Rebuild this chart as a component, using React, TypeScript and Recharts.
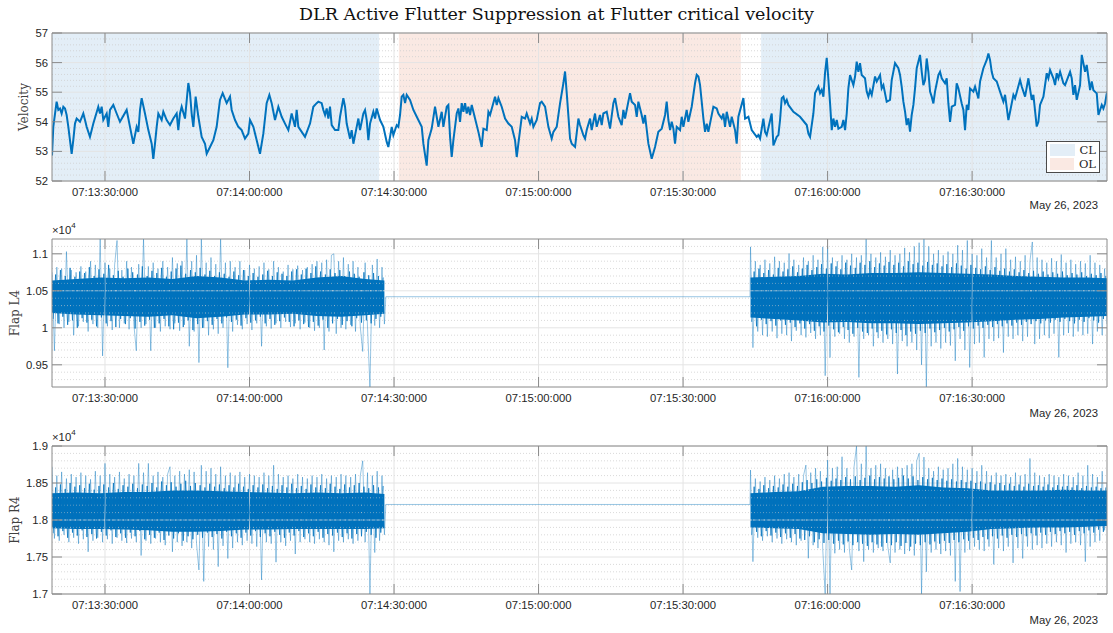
import { ComposedChart, Line, Area, XAxis, YAxis, ReferenceArea, ReferenceLine } from 'recharts'

const W = 1113
const BLUE = '#0072BD'
const AXIS = '#8a8a8a'
const INK = '#262626'
const SANS = '"Liberation Sans", Arial, Helvetica, sans-serif'
const SERIF = '"DejaVu Serif", "Liberation Serif", serif'

// time in seconds after 07:13:00
const X_MIN = 19
const X_MAX = 238
const timeTicks = [30, 60, 90, 120, 150, 180, 210]
const timeLabels = ['07:13:30:000', '07:14:00:000', '07:14:30:000', '07:15:00:000', '07:15:30:000', '07:16:00:000', '07:16:30:000']

// closed loop / open loop phases
const clSpans = [[19, 86.9], [166.2, 238]]
const olSpans = [[91.0, 162.0]]

// velocity trace (turning points)
const velT = [19.0, 19.27, 19.96, 20.31, 20.66, 21.0, 21.35, 21.7, 22.04, 22.39, 22.73, 23.08, 23.42, 23.77, 24.12, 24.81, 25.5, 25.85, 26.19, 26.88, 27.58, 28.61, 28.96, 29.31, 29.65, 30.35, 30.69, 31.04, 31.73, 32.42, 33.11, 34.5, 35.19, 35.88, 36.57, 36.92, 37.27, 37.61, 38.3, 39.0, 39.69, 40.03, 40.38, 40.73, 41.07, 41.76, 42.11, 42.8, 43.49, 44.19, 44.88, 45.22, 45.57, 45.92, 46.61, 47.3, 47.65, 47.99, 48.34, 48.82, 49.38, 50.07, 50.76, 51.11, 51.8, 52.49, 53.18, 53.87, 54.43, 55.26, 55.95, 56.3, 56.99, 57.68, 58.37, 59.06, 59.76, 60.1, 60.8, 61.49, 62.18, 62.87, 63.56, 64.12, 64.6, 65.29, 65.99, 66.68, 67.37, 68.06, 68.75, 69.44, 69.79, 70.14, 71.52, 72.56, 73.25, 73.94, 74.29, 74.98, 75.33, 75.68, 76.02, 76.37, 76.71, 77.06, 77.75, 78.44, 78.79, 79.48, 79.83, 80.17, 80.87, 81.21, 81.56, 82.25, 82.6, 82.94, 83.63, 83.98, 84.33, 84.67, 85.02, 85.71, 86.06, 86.4, 87.1, 87.79, 88.48, 88.82, 89.52, 89.86, 90.56, 90.9, 91.25, 91.59, 91.94, 92.29, 92.63, 93.32, 94.02, 95.05, 95.75, 96.09, 96.78, 97.13, 97.82, 98.51, 98.86, 99.21, 99.9, 100.24, 100.94, 101.28, 101.63, 101.97, 102.32, 103.01, 103.36, 103.7, 104.05, 104.4, 104.74, 105.09, 105.43, 105.78, 106.13, 106.82, 107.51, 108.2, 108.55, 109.24, 109.59, 109.93, 110.97, 111.32, 111.66, 112.35, 113.05, 113.74, 114.43, 115.12, 115.47, 115.81, 116.51, 117.2, 117.54, 118.24, 118.58, 118.93, 119.62, 120.31, 120.66, 121.35, 122.04, 122.73, 123.08, 123.77, 124.47, 125.16, 125.5, 125.85, 126.54, 126.89, 127.58, 128.27, 128.61, 129.3, 129.65, 130.0, 130.69, 131.03, 131.72, 132.07, 132.76, 133.11, 133.45, 134.15, 134.84, 135.53, 135.88, 136.57, 137.26, 137.61, 137.95, 138.99, 139.34, 140.03, 140.38, 140.72, 141.41, 141.76, 142.1, 142.8, 143.49, 144.18, 144.87, 145.57, 146.26, 146.6, 146.95, 147.3, 147.64, 147.99, 148.33, 148.68, 149.37, 149.72, 150.06, 150.75, 151.1, 151.79, 152.49, 152.83, 153.18, 153.52, 154.22, 154.56, 154.91, 155.25, 156.29, 156.98, 157.33, 158.02, 158.37, 158.71, 159.06, 159.75, 160.1, 160.79, 161.13, 161.48, 162.52, 162.87, 163.56, 164.25, 165.29, 165.63, 165.98, 166.67, 167.02, 167.36, 168.4, 168.75, 169.44, 169.79, 170.13, 170.48, 170.83, 171.17, 171.52, 171.86, 172.9, 174.28, 175.67, 176.02, 176.36, 177.05, 177.4, 178.09, 178.44, 178.78, 179.13, 179.47, 179.82, 180.17, 180.51, 180.86, 181.2, 181.55, 181.9, 182.24, 182.93, 183.28, 183.63, 183.97, 184.31, 184.66, 185.0, 185.35, 185.7, 186.04, 186.39, 186.73, 187.08, 187.77, 188.12, 188.46, 188.81, 189.16, 189.85, 190.2, 190.89, 191.23, 191.58, 192.27, 192.96, 193.31, 194.0, 194.69, 195.04, 195.38, 195.73, 196.08, 196.42, 196.77, 197.11, 197.46, 197.81, 198.15, 198.5, 199.19, 199.54, 199.88, 200.23, 200.57, 200.92, 201.27, 201.61, 201.96, 202.3, 203.0, 203.34, 203.69, 204.38, 204.73, 205.07, 205.42, 205.77, 206.46, 206.8, 207.15, 207.84, 208.19, 208.53, 208.88, 209.23, 209.57, 210.26, 210.61, 211.3, 211.65, 212.34, 213.03, 213.38, 213.72, 214.07, 214.42, 215.11, 215.8, 216.49, 216.84, 217.53, 217.88, 218.57, 218.91, 219.95, 220.3, 220.99, 221.68, 222.38, 222.72, 223.41, 223.76, 224.1, 224.8, 225.49, 225.83, 226.18, 226.87, 227.22, 227.57, 227.91, 228.26, 228.95, 229.29, 230.33, 230.68, 231.02, 231.37, 231.72, 232.41, 232.76, 233.45, 233.79, 234.49, 234.83, 235.18, 235.87, 236.22, 236.91, 237.25, 237.6, 237.95, 238.0]
const velV = [52.86, 53.83, 54.68, 54.4, 54.45, 54.28, 54.51, 54.45, 54.23, 53.83, 53.38, 52.92, 53.38, 53.94, 54.11, 54.0, 54.28, 54.06, 53.83, 53.49, 53.94, 54.51, 54.28, 54.51, 54.06, 54.28, 53.83, 54.4, 54.57, 54.28, 54.0, 54.4, 53.83, 53.26, 53.83, 53.66, 54.4, 54.8, 54.28, 53.72, 53.26, 52.75, 53.26, 53.83, 54.28, 54.06, 54.34, 54.06, 53.89, 54.11, 54.28, 53.72, 54.28, 54.51, 54.11, 55.31, 54.97, 54.28, 53.83, 54.85, 54.17, 53.49, 53.26, 52.92, 53.15, 53.38, 53.83, 54.74, 54.97, 54.63, 54.85, 54.4, 54.06, 53.83, 53.72, 53.43, 53.6, 54.06, 53.83, 53.38, 52.92, 53.6, 54.63, 54.91, 54.63, 54.06, 54.51, 54.17, 53.94, 53.72, 54.28, 53.83, 54.4, 53.83, 53.49, 53.94, 54.51, 54.63, 54.68, 54.63, 54.4, 54.23, 54.45, 54.11, 54.51, 53.89, 53.72, 53.72, 54.17, 54.8, 54.51, 53.94, 53.43, 53.72, 53.26, 53.83, 54.11, 53.72, 54.28, 54.4, 54.06, 53.38, 53.94, 54.34, 54.11, 54.45, 54.06, 53.83, 53.32, 53.15, 53.83, 53.55, 53.89, 53.83, 54.23, 54.85, 54.91, 54.63, 54.91, 54.74, 54.4, 54.06, 53.83, 53.26, 52.52, 53.38, 53.77, 54.51, 54.17, 53.83, 54.34, 53.83, 54.51, 54.57, 53.49, 52.81, 53.38, 54.28, 54.45, 54.0, 54.63, 54.34, 54.63, 54.28, 54.51, 54.23, 54.57, 54.11, 53.66, 53.15, 53.77, 53.72, 54.34, 54.23, 54.85, 54.57, 54.8, 54.51, 54.11, 53.94, 53.83, 53.38, 52.81, 53.26, 54.17, 54.11, 54.28, 53.94, 54.11, 53.83, 54.06, 54.63, 54.68, 54.51, 53.83, 53.43, 53.66, 53.83, 54.63, 55.31, 55.7, 54.97, 53.43, 53.26, 53.15, 54.11, 53.89, 53.55, 53.43, 53.72, 54.11, 53.72, 54.28, 53.83, 54.23, 53.89, 54.28, 54.34, 53.77, 54.63, 54.8, 54.17, 53.89, 54.4, 54.11, 54.97, 54.68, 54.57, 54.17, 54.68, 54.23, 53.94, 54.23, 53.26, 52.75, 53.15, 53.66, 53.77, 54.23, 54.68, 54.06, 53.72, 54.0, 53.77, 53.26, 53.83, 53.72, 54.17, 53.83, 54.4, 54.0, 54.51, 55.31, 55.59, 55.53, 55.25, 54.11, 53.66, 53.94, 53.66, 54.51, 54.45, 54.28, 54.11, 54.28, 53.83, 54.34, 53.83, 54.17, 53.72, 53.26, 54.17, 54.8, 54.11, 54.17, 53.72, 53.49, 53.55, 53.43, 54.11, 53.66, 53.55, 54.28, 53.2, 53.49, 53.55, 54.06, 54.8, 54.85, 54.63, 54.74, 54.57, 54.34, 54.17, 53.89, 53.6, 53.49, 54.28, 54.97, 55.19, 54.97, 55.08, 54.85, 55.65, 56.16, 55.42, 54.63, 53.72, 54.11, 53.83, 54.06, 53.77, 53.83, 54.06, 53.72, 54.28, 55.13, 55.58, 55.41, 55.24, 55.53, 56.03, 55.69, 55.98, 55.58, 55.47, 55.02, 54.85, 55.07, 54.91, 55.53, 55.36, 55.58, 55.13, 55.24, 54.68, 54.74, 55.41, 55.98, 55.81, 55.58, 55.19, 54.68, 54.34, 53.89, 54.12, 53.67, 54.23, 54.57, 55.13, 55.81, 56.26, 55.69, 55.24, 55.41, 56.14, 55.69, 55.02, 54.85, 54.62, 55.02, 55.58, 55.69, 55.47, 55.3, 55.47, 54.62, 54.0, 54.51, 54.57, 55.3, 55.13, 54.62, 54.4, 53.72, 54.57, 54.4, 55.13, 55.02, 55.19, 54.79, 55.36, 55.81, 56.09, 56.31, 56.09, 55.69, 55.47, 55.36, 55.02, 54.68, 54.91, 54.06, 54.34, 54.91, 54.79, 55.41, 55.19, 54.85, 55.47, 54.74, 54.91, 53.84, 54.0, 54.57, 54.85, 55.64, 55.47, 55.75, 55.47, 55.24, 55.64, 55.47, 55.69, 55.3, 55.24, 55.69, 55.47, 54.91, 55.24, 54.74, 55.24, 56.26, 55.69, 55.92, 55.07, 55.36, 55.07, 54.96, 54.23, 54.57, 54.45, 54.62, 54.96, 55.02]

// flap signals: extreme excursions every 0.5 s in the active (CL) phases
const SPIKE_STEP = 0.5
const leftStart = 19
const rightStart = 164
const l4LeftSpikes = [10750, 9690, 10820, 10050, 10800, 10000, 11030, 10080, 10780, 9900, 10750, 10020, 10830, 10080, 10760, 9950, 10900, 10050, 10850, 10000, 11200, 9620, 10880, 10020, 10800, 9970, 10850, 11180, 10000, 10780, 10060, 10900, 9980, 10820, 10040, 9690, 10860, 10000, 11200, 10050, 10830, 9690, 10880, 10000, 10800, 9950, 10900, 10020, 10820, 9980, 10950, 10060, 10870, 9960, 10900, 10040, 11200, 9750, 10900, 9950, 10980, 9530, 11200, 10000, 10880, 9900, 10950, 9980, 10860, 9920, 11200, 10000, 10880, 9460, 10900, 9950, 10820, 10040, 10900, 9980, 10780, 10050, 10850, 9970, 10800, 10060, 10830, 9750, 10880, 10020, 10790, 9990, 10900, 10060, 10820, 10000, 10760, 10080, 10850, 10010, 10790, 10060, 10840, 9980, 10780, 10070, 10820, 10000, 10860, 9960, 10900, 10000, 10880, 9700, 10920, 9950, 10980, 11000, 9920, 10900, 10000, 10950, 9980, 10860, 10040, 10900, 9950, 10820, 10010, 9680, 10880, 10000, 9200, 10850, 10030, 10930, 10000, 10820, 10050]
const l4RightSpikes = [11094, 9732, 10900, 9950, 10850, 9900, 10920, 9880, 10870, 9950, 10960, 9860, 10900, 9920, 10880, 9900, 11004, 9820, 10920, 9960, 10850, 9900, 10950, 9870, 10900, 9930, 10980, 9850, 10920, 9900, 11094, 9353, 11100, 9598, 10950, 9880, 10900, 9920, 10980, 9850, 10920, 9800, 11000, 9880, 10950, 9330, 10980, 9850, 11200, 9900, 11000, 9750, 10950, 9860, 11020, 9800, 10960, 9850, 11050, 9780, 10980, 9375, 11000, 9820, 11080, 9750, 11020, 9800, 11100, 9700, 11150, 9500, 11200, 9200, 11100, 9750, 11000, 9800, 11050, 9720, 10980, 9800, 11030, 9760, 11000, 9554, 11116, 9850, 11050, 9700, 11180, 9464, 11000, 9780, 10980, 9800, 11070, 9600, 10950, 9850, 11180, 9820, 10950, 9860, 11000, 9665, 11070, 9880, 10920, 9850, 10960, 9900, 10900, 9820, 10980, 9880, 10900, 11160, 9780, 10950, 9850, 10920, 9900, 10880, 9860, 10940, 9920, 10900, 9600, 10990, 9900, 10880, 9930, 10920, 9880, 10860, 9950, 10900, 9900, 10870, 9920, 10980, 9780, 10880, 9950, 10850, 9900, 10800, 10050]
const r4LeftSpikes = [18720, 17750, 18600, 17720, 18650, 17800, 18560, 17700, 18620, 17760, 18580, 17680, 18640, 17740, 18600, 17570, 18550, 17720, 18660, 17760, 18600, 17700, 18765, 17740, 18620, 17680, 18580, 17760, 18650, 17720, 18560, 17690, 18620, 17750, 18600, 17700, 18765, 17520, 18640, 17720, 18765, 17680, 18600, 17750, 18650, 17700, 18580, 17660, 18620, 18720, 17570, 18600, 17700, 18660, 17650, 18620, 17700, 18680, 17620, 18650, 17680, 17325, 18740, 17170, 18660, 17640, 18700, 17600, 18620, 17370, 18720, 17650, 18600, 17480, 18640, 17620, 18600, 17700, 18650, 17660, 18580, 17720, 18620, 17680, 18600, 17640, 18580, 17190, 18640, 17700, 18600, 17680, 18740, 17430, 18620, 17700, 18580, 17650, 18600, 17720, 18560, 17540, 18620, 17700, 18580, 17740, 18560, 17700, 18600, 17680, 18580, 17740, 18620, 17700, 18560, 17660, 18600, 17570, 18580, 17720, 18620, 17700, 18600, 17740, 18580, 17680, 18620, 17720, 18600, 18800, 17700, 18640, 17000, 18600, 17560, 18660, 17720, 18600, 17800]
const r4RightSpikes = [18675, 17437, 18560, 17760, 18520, 17720, 18580, 17780, 18540, 17700, 18600, 17750, 18560, 17680, 18620, 17740, 18640, 17700, 18580, 17660, 18620, 17720, 18600, 18742, 17483, 18640, 17660, 18700, 17620, 18660, 17600, 17000, 18810, 17000, 18700, 17550, 18720, 17600, 18855, 17560, 18700, 17620, 17325, 18720, 19000, 17580, 18760, 17437, 19000, 17600, 18700, 17560, 18740, 17620, 18760, 17580, 18700, 17640, 17420, 18680, 17560, 18720, 17600, 18700, 17540, 18740, 17580, 18760, 17520, 18800, 18900, 17000, 18850, 17300, 18700, 17560, 18660, 17600, 18720, 17540, 18680, 17580, 18700, 17520, 18760, 17170, 18832, 17033, 18720, 17560, 18680, 17600, 18700, 17640, 18660, 17600, 18740, 17580, 18660, 17640, 18600, 17400, 18640, 17620, 18600, 17580, 18620, 17640, 18580, 17420, 18640, 17620, 18600, 17480, 18620, 17640, 18832, 17600, 18640, 17660, 18600, 17620, 18580, 17680, 18620, 17640, 18600, 17700, 18580, 17660, 18620, 17560, 18600, 17680, 18580, 17700, 18640, 17660, 18600, 17437, 18740, 17640, 18620, 17700, 18580, 17720, 18660, 17860, 18500]

// edge of the dense (dark) part of the trace, every 0.5 s, offset by a quarter second
const INNER_OFFSET = 0.25
const l4LeftInner = [10120, 10720, 10060, 10780, 10150, 10700, 10040, 10810, 10100, 10690, 10000, 10760, 10130, 10740, 10070, 10820, 10110, 10700, 10020, 10790, 10140, 10730, 10060, 10850, 10090, 10710, 10010, 10770, 10120, 10690, 10050, 10800, 10130, 10750, 9990, 10720, 10080, 10830, 10030, 10700, 10110, 10770, 10000, 10740, 10060, 10810, 10120, 10690, 10020, 10760, 9980, 10800, 10070, 10840, 10010, 10730, 10100, 10780, 9970, 10750, 10050, 10810, 10000, 10720, 10090, 10770, 10040, 10700, 10120, 10750, 10060, 10730, 10140, 10690, 10080, 10760, 10110, 10710, 10030, 10780, 10130, 10700, 10070, 10740, 10100, 10690, 10150, 10720, 10060, 10770, 10120, 10700, 10040, 10750, 10090, 10730, 10140, 10700, 10080, 10760, 10020, 10790, 10100, 10720, 10050, 10800, 10010, 10740, 10080, 10830, 10030, 10760, 10110, 10720, 10000, 10790, 10060, 10740, 10120, 10780, 10040, 10700, 10090, 10760, 10020, 10730, 10130, 10690, 10070, 10750, 10100, 10710, 10060, 10740, 10120, 10700, 10150, 10680]
const l4RightInner = [10080, 10760, 10020, 10800, 10110, 10740, 10050, 10780, 10090, 10720, 10030, 10810, 10100, 10760, 10040, 10790, 10070, 10830, 10010, 10750, 10060, 10800, 9990, 10850, 10050, 10780, 9960, 10820, 10020, 10860, 9950, 10800, 10030, 10870, 9980, 10830, 9940, 10790, 10010, 10880, 9970, 10840, 9920, 10810, 10000, 10880, 9950, 10850, 9930, 10900, 9990, 10820, 9940, 10870, 9960, 10840, 9910, 10890, 9980, 10850, 9930, 10880, 9970, 10830, 9900, 10900, 9950, 10860, 9920, 10880, 9960, 10840, 9930, 10890, 9990, 10850, 9940, 10870, 9970, 10830, 10000, 10860, 9950, 10820, 9980, 10870, 10010, 10840, 9960, 10800, 10020, 10850, 9990, 10810, 10030, 10790, 10000, 10830, 10040, 10780, 10010, 10820, 10050, 10770, 10020, 10800, 10060, 10760, 10030, 10790, 10070, 10750, 10040, 10780, 10080, 10740, 10050, 10770, 10090, 10730, 10060, 10760, 10100, 10720, 10070, 10750, 10110, 10730, 10080, 10760, 10120, 10710, 10090, 10740, 10060, 10720, 10110, 10750, 10080, 10700, 10130, 10730, 10100, 10710, 10070, 10740, 10120, 10700]
const r4LeftInner = [17820, 18440, 17780, 18480, 17850, 18420, 17760, 18500, 17830, 18450, 17790, 18470, 17860, 18430, 17770, 18490, 17810, 18410, 17750, 18460, 17840, 18480, 17790, 18440, 17860, 18500, 17770, 18420, 17820, 18470, 17760, 18450, 17830, 18490, 17780, 18430, 17850, 18480, 17740, 18460, 17800, 18500, 17760, 18440, 17830, 18520, 17730, 18470, 17790, 18510, 17750, 18450, 17820, 18490, 17720, 18530, 17780, 18460, 17740, 18500, 17800, 18470, 17760, 18440, 17830, 18490, 17770, 18450, 17810, 18480, 17750, 18430, 17840, 18470, 17780, 18440, 17820, 18490, 17760, 18450, 17830, 18420, 17790, 18470, 17850, 18440, 17770, 18480, 17820, 18430, 17780, 18460, 17840, 18420, 17800, 18470, 17760, 18440, 17830, 18490, 17790, 18430, 17850, 18460, 17770, 18420, 17820, 18480, 17780, 18440, 17840, 18470, 17760, 18430, 17810, 18490, 17790, 18450, 17830, 18420, 17770, 18480, 17820, 18440, 17750, 18470, 17810, 18500, 17780, 18450, 17840, 18430, 17800, 18470, 17760, 18440, 17830, 18460]
const r4RightInner = [17800, 18450, 17840, 18420, 17780, 18470, 17850, 18430, 17790, 18460, 17830, 18440, 17770, 18480, 17820, 18450, 17760, 18490, 17810, 18460, 17750, 18510, 17730, 18540, 17780, 18500, 17700, 18550, 17740, 18520, 17690, 18570, 17730, 18530, 17680, 18560, 17720, 18540, 17670, 18580, 17710, 18550, 17660, 18590, 17700, 18540, 17680, 18570, 17650, 18600, 17700, 18550, 17670, 18580, 17640, 18560, 17690, 18590, 17660, 18550, 17700, 18570, 17650, 18600, 17690, 18560, 17640, 18590, 17680, 18540, 17660, 18580, 17700, 18550, 17670, 18570, 17710, 18540, 17680, 18560, 17720, 18530, 17690, 18550, 17730, 18520, 17700, 18540, 17740, 18510, 17720, 18530, 17760, 18500, 17730, 18520, 17770, 18490, 17740, 18510, 17780, 18480, 17750, 18500, 17790, 18470, 17760, 18490, 17800, 18460, 17770, 18480, 17810, 18450, 17780, 18490, 17820, 18460, 17790, 18470, 17830, 18450, 17800, 18480, 17840, 18440, 17810, 18470, 17850, 18450, 17820, 18460, 17840, 18440, 17800, 18470, 17850, 18430, 17820, 18460, 17860, 18440, 17830, 18450, 17870, 18430, 17840, 18440]

// held value while the controller is off (OL)
const holdT = [88.3, 163.9]
const l4Hold = [10420, 10420]
const r4Hold = [18210, 18210]

// solid band in the middle of the trace
const coreLeftT = [19, 24, 29, 34, 39, 44, 49, 54, 59, 64, 69, 74, 79, 84, 88]
const coreRightT = [164, 169, 174, 179, 184, 189, 194, 199, 204, 209, 214, 219, 224, 229, 234, 238]
const l4CoreLeftLo = [10200, 10180, 10170, 10160, 10150, 10170, 10130, 10150, 10180, 10180, 10190, 10160, 10150, 10170, 10190]
const l4CoreLeftHi = [10640, 10660, 10680, 10670, 10680, 10660, 10700, 10680, 10640, 10650, 10640, 10680, 10700, 10660, 10640]
const l4CoreRightLo = [10140, 10120, 10100, 10070, 10080, 10060, 10060, 10050, 10060, 10070, 10090, 10110, 10120, 10140, 10150, 10160]
const l4CoreRightHi = [10680, 10690, 10700, 10730, 10720, 10740, 10740, 10750, 10740, 10730, 10720, 10700, 10690, 10680, 10680, 10670]
const r4CoreLeftLo = [17890, 17880, 17880, 17870, 17860, 17840, 17840, 17850, 17870, 17870, 17880, 17880, 17880, 17880, 17890]
const r4CoreLeftHi = [18360, 18370, 18360, 18380, 18380, 18400, 18400, 18390, 18380, 18370, 18360, 18370, 18360, 18370, 18350]
const r4CoreRightLo = [17900, 17890, 17880, 17820, 17810, 17800, 17810, 17800, 17820, 17840, 17880, 17890, 17900, 17900, 17910, 17920]
const r4CoreRightHi = [18360, 18380, 18390, 18450, 18460, 18460, 18450, 18470, 18440, 18430, 18400, 18400, 18400, 18410, 18400, 18400]

// axes
const velTicks = [52, 53, 54, 55, 56, 57]
const velTickLabels = ['52', '53', '54', '55', '56', '57']
const velMinor = [52.2, 52.4, 52.6, 52.8, 53.2, 53.4, 53.6, 53.8, 54.2, 54.4, 54.6, 54.8, 55.2, 55.4, 55.6, 55.8, 56.2, 56.4, 56.6, 56.8]
const l4Ticks = [9500, 10000, 10500, 11000]
const l4TickLabels = ['0.95', '1', '1.05', '1.1']
const l4Minor = [9300, 9400, 9600, 9700, 9800, 9900, 10100, 10200, 10300, 10400, 10600, 10700, 10800, 10900, 11100]
const r4Ticks = [17000, 17500, 18000, 18500, 19000]
const r4TickLabels = ['1.7', '1.75', '1.8', '1.85', '1.9']
const r4Minor = [17100, 17200, 17300, 17400, 17600, 17700, 17800, 17900, 18100, 18200, 18300, 18400, 18600, 18700, 18800, 18900]

const velRows = velT.map((t, i) => ({ t, v: velV[i] }))
const stepRows = (start: number, vals: number[]) => vals.map((v, i) => ({ t: start + i * SPIKE_STEP, v }))
const flapRows = (left: number[], hold: number[], right: number[]) => [
  ...stepRows(leftStart, left),
  ...holdT.map((t, i) => ({ t, v: hold[i] })),
  ...stepRows(rightStart, right),
]
const coreRows = (ts: number[], lo: number[], hi: number[]) => ts.map((t, i) => ({ t, r: [lo[i], hi[i]] }))

const timeLabel = (v: number) => timeLabels[timeTicks.indexOf(v)] ?? ''

function BottomTick(props: any) {
  const { x, y, payload } = props
  return (
    <g>
      <line x1={x} x2={x} y1={y - 7} y2={y - 17} stroke={AXIS} />
      <text x={x} y={y} dy="0.71em" textAnchor="middle" fill={INK} fontSize={11.3} fontFamily={SANS}>{timeLabel(payload.value)}</text>
    </g>
  )
}

function TopTick(props: any) {
  const { x, y } = props
  return <line x1={x} x2={x} y1={y} y2={y + 10} stroke={AXIS} />
}

function makeLeftTick(ticks: number[], labels: string[]) {
  return function LeftTick(props: any) {
    const { x, y, payload } = props
    return (
      <g>
        <line x1={x + 4} x2={x + 14} y1={y} y2={y} stroke={AXIS} />
        <text x={x} y={y} dy="0.355em" textAnchor="end" fill={INK} fontSize={11.3} fontFamily={SANS}>{labels[ticks.indexOf(payload.value)]}</text>
      </g>
    )
  }
}

function RightTick(props: any) {
  const { x, y } = props
  return <line x1={x} x2={x - 10} y1={y} y2={y} stroke={AXIS} />
}

function gridLines(majorY: number[], minorY: number[]) {
  return [
    ...minorY.map((v) => <ReferenceLine key={'my' + v} y={v} stroke="#cfcfcf" strokeDasharray="1 2" strokeWidth={0.8} />),
    ...majorY.map((v) => <ReferenceLine key={'gy' + v} y={v} stroke="#e4e4e4" />),
    ...timeTicks.map((v) => <ReferenceLine key={'gx' + v} x={v} stroke="#e4e4e4" />),
  ]
}

function axes(domain: number[], ticks: number[], labels: string[]) {
  const LeftTick = makeLeftTick(ticks, labels)
  return [
    <XAxis key="xb" xAxisId={0} dataKey="t" type="number" domain={[X_MIN, X_MAX]} ticks={timeTicks} interval={0} allowDataOverflow
      height={1} tickSize={0} tickMargin={7} tickLine={false} axisLine={{ stroke: AXIS }} tick={(p: any) => <BottomTick {...p} />} />,
    <XAxis key="xt" xAxisId="top" orientation="top" dataKey="t" type="number" domain={[X_MIN, X_MAX]} ticks={timeTicks} interval={0} allowDataOverflow
      height={1} tickSize={0} tickMargin={0} tickLine={false} axisLine={{ stroke: AXIS }} tick={(p: any) => <TopTick {...p} />} />,
    <YAxis key="yl" yAxisId={0} type="number" domain={domain} ticks={ticks} interval={0} allowDataOverflow
      width={1} tickSize={0} tickMargin={4} tickLine={false} axisLine={{ stroke: AXIS }} tick={(p: any) => <LeftTick {...p} />} />,
    <YAxis key="yr" yAxisId="r" orientation="right" type="number" domain={domain} ticks={ticks} interval={0} allowDataOverflow
      width={1} tickSize={0} tickMargin={0} tickLine={false} axisLine={{ stroke: AXIS }} tick={(p: any) => <RightTick {...p} />} />,
  ]
}

function flapSeries(rows: any[], leftInner: number[], rightInner: number[], cores: any[][]) {
  return [
    <Line key="spk" data={rows} dataKey="v" type="linear" stroke={BLUE} strokeOpacity={0.45} strokeWidth={0.9} dot={false} isAnimationActive={false} />,
    ...cores.map((c, i) => (
      <Area key={'core' + i} data={c} dataKey="r" type="linear" stroke="none" fill={BLUE} fillOpacity={1} isAnimationActive={false} />
    )),
    <Line key="inL" data={stepRows(leftStart + INNER_OFFSET, leftInner)} dataKey="v" type="linear" stroke={BLUE} strokeOpacity={0.85} strokeWidth={0.9} dot={false} isAnimationActive={false} />,
    <Line key="inR" data={stepRows(rightStart + INNER_OFFSET, rightInner)} dataKey="v" type="linear" stroke={BLUE} strokeOpacity={0.85} strokeWidth={0.9} dot={false} isAnimationActive={false} />,
  ]
}

function PhaseLegend() {
  const row = (color: string, text: string) => (
    <div style={{ display: 'flex', alignItems: 'center', height: 14 }}>
      <div style={{ width: 26, height: 12, background: color, marginRight: 5 }} />
      <span style={{ fontFamily: SERIF, fontSize: 11.5, color: INK }}>{text}</span>
    </div>
  )
  return (
    <div style={{ position: 'absolute', left: 1046, top: 141, border: '1px solid #4a4a4a', background: '#fff', padding: '1px 3px', width: 46 }}>
      {row('#E3EEF7', 'CL')}
      {row('#FAE9E3', 'OL')}
    </div>
  )
}

const panelStyle = (top: number) => ({ position: 'absolute' as const, left: 0, top })

function YTitle({ text, x, y }: { text: string; x: number; y: number }) {
  return (
    <div style={{ position: 'absolute', left: x - 40, top: y - 8, width: 80, height: 16, textAlign: 'center', transform: 'rotate(-90deg)',
      fontFamily: SERIF, fontSize: 12, color: '#404040', lineHeight: '16px', whiteSpace: 'nowrap' }}>{text}</div>
  )
}

function Stamp({ top }: { top: number }) {
  return <div style={{ position: 'absolute', right: 15, top, fontFamily: SANS, fontSize: 11.3, color: INK }}>May 26, 2023</div>
}

function Exponent({ top }: { top: number }) {
  return (
    <div style={{ position: 'absolute', left: 52, top, fontFamily: SANS, fontSize: 11.3, color: INK }}>
      ×10<sup style={{ fontSize: 8, verticalAlign: 'top', position: 'relative', top: -3 }}>4</sup>
    </div>
  )
}

export default function App() {
  const l4 = flapRows(l4LeftSpikes, l4Hold, l4RightSpikes)
  const r4 = flapRows(r4LeftSpikes, r4Hold, r4RightSpikes)
  const l4Cores = [coreRows(coreLeftT, l4CoreLeftLo, l4CoreLeftHi), coreRows(coreRightT, l4CoreRightLo, l4CoreRightHi)]
  const r4Cores = [coreRows(coreLeftT, r4CoreLeftLo, r4CoreLeftHi), coreRows(coreRightT, r4CoreRightLo, r4CoreRightHi)]
  return (
    <div style={{ position: 'absolute', left: 0, top: 0, width: W, height: 633, background: '#fff', overflow: 'hidden' }}>
      <div style={{ position: 'absolute', left: 0, width: W, top: 4, textAlign: 'center', fontFamily: SERIF, fontSize: 17.5, color: '#111', paddingRight: 46 }}>
        DLR Active Flutter Suppression at Flutter critical velocity
      </div>

      <div style={panelStyle(0)}>
        <ComposedChart width={W} height={215} margin={{ top: 32, right: 5, bottom: 33, left: 51 }}>
          {clSpans.map(([a, b]) => <ReferenceArea key={'cl' + a} x1={a} x2={b} fill="#E3EEF7" fillOpacity={1} stroke="none" />)}
          {olSpans.map(([a, b]) => <ReferenceArea key={'ol' + a} x1={a} x2={b} fill="#FAE9E3" fillOpacity={1} stroke="none" />)}
          {gridLines(velTicks, velMinor)}
          {axes([52, 57], velTicks, velTickLabels)}
          <Line data={velRows} dataKey="v" type="linear" stroke={BLUE} strokeWidth={2} dot={false} isAnimationActive={false} />
        </ComposedChart>
      </div>

      <div style={panelStyle(215)}>
        <ComposedChart width={W} height={210} margin={{ top: 23, right: 5, bottom: 37, left: 51 }}>
          {gridLines(l4Ticks, l4Minor)}
          {axes([9200, 11200], l4Ticks, l4TickLabels)}
          {flapSeries(l4, l4LeftInner, l4RightInner, l4Cores)}
        </ComposedChart>
      </div>

      <div style={panelStyle(425)}>
        <ComposedChart width={W} height={208} margin={{ top: 20, right: 5, bottom: 38, left: 51 }}>
          {gridLines(r4Ticks, r4Minor)}
          {axes([17000, 19000], r4Ticks, r4TickLabels)}
          {flapSeries(r4, r4LeftInner, r4RightInner, r4Cores)}
        </ComposedChart>
      </div>

      <PhaseLegend />
      <YTitle text="Velocity" x={24} y={107} />
      <YTitle text="Flap L4" x={15} y={313} />
      <YTitle text="Flap R4" x={15} y={520} />
      <Exponent top={224} />
      <Exponent top={431} />
      <Stamp top={199} />
      <Stamp top={407} />
      <Stamp top={614} />
    </div>
  )
}
